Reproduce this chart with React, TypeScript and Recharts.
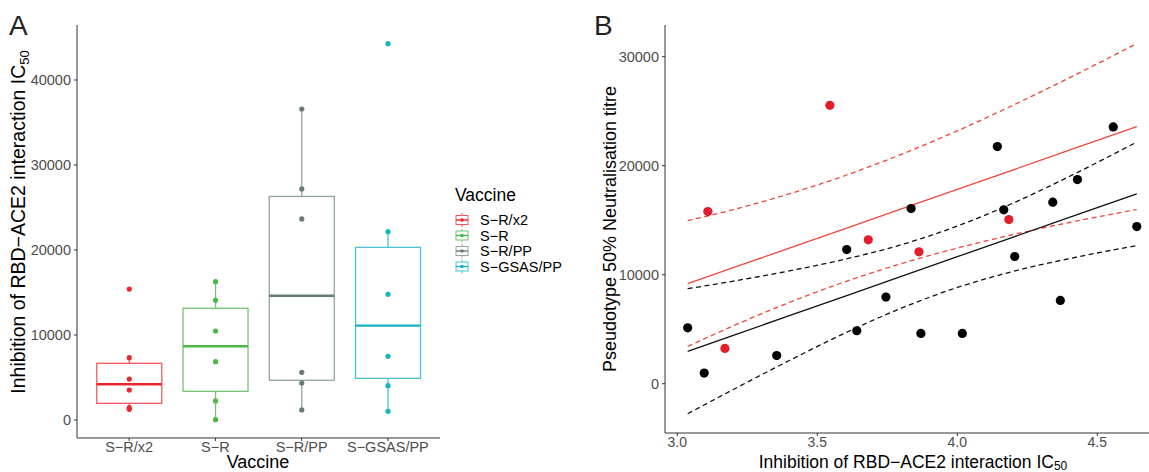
import { ComposedChart, Bar, Line, Scatter, XAxis, YAxis } from 'recharts';

// panel A: box plots by vaccine
const vaccines = ['S−R/x2', 'S−R', 'S−R/PP', 'S−GSAS/PP'];
const vaccineColors = ['#e8262c', '#4cb848', '#677b7b', '#17b3c6'];
const boxStrokes = ['#f05a5e', '#74c471', '#93a4a4', '#4cc3d3'];

const pointsSRx2 = [15400, 7330, 4820, 3530, 1450, 1260];
const pointsSR = [16270, 14080, 10470, 6860, 2240, 40];
const pointsSRPP = [36590, 27180, 23650, 5610, 4350, 1180];
const pointsSGSASPP = [44270, 22150, 14780, 7490, 4040, 1020];

const q1Values = [1960, 3370, 4670, 4900];
const medianValues = [4200, 8670, 14620, 11100];
const q3Values = [6670, 13140, 26300, 20310];
const whiskerLow = [1260, 40, 1180, 1020];
const whiskerHigh = [7330, 16270, 36590, 22150];
const yTicksA = [0, 10000, 20000, 30000, 40000];

// panel B: titre vs IC50 with linear fits
const redX = [3.109, 3.545, 3.17, 3.682, 3.863, 4.184];
const redY = [15790, 25540, 3240, 13200, 12100, 15060];
const blackX = [3.037, 3.096, 3.355, 3.605, 3.641, 3.745, 3.87, 4.018, 4.205, 4.368, 3.835, 4.143, 4.166, 4.341, 4.429, 4.557, 4.641];
const blackY = [5130, 980, 2590, 12310, 4860, 7950, 4610, 4610, 11670, 7640, 16070, 21750, 15950, 16650, 18730, 23560, 14420];

const fitX = [3.037, 3.2, 3.4, 3.6, 3.8, 4.0, 4.2, 4.4, 4.641];
const redFit = [9180, 10640, 12440, 14230, 16030, 17820, 19620, 21420, 23580];
const redUpper = [14960, 15970, 17420, 19100, 21040, 23200, 25560, 28060, 31200];
const redLower = [3420, 5310, 7460, 9360, 11020, 12440, 13690, 14790, 15980];
const blackFit = [2970, 4440, 6240, 8040, 9840, 11650, 13450, 15250, 17420];
const blackUpper = [8720, 9410, 10350, 11430, 12750, 14460, 16580, 19010, 22170];
const blackLower = [-2750, -530, 2130, 4660, 6930, 8830, 10310, 11480, 12670];
const xTicksB = [3.0, 3.5, 4.0, 4.5];
const yTicksB = [0, 10000, 20000, 30000];

const groupPoints = [pointsSRx2, pointsSR, pointsSRPP, pointsSGSASPP];

const boxData = vaccines.map((name, i) => ({
  name,
  range: [Math.min(...groupPoints[i]), Math.max(...groupPoints[i])],
  q1: q1Values[i],
  median: medianValues[i],
  q3: q3Values[i],
  lo: whiskerLow[i],
  hi: whiskerHigh[i],
  points: groupPoints[i],
  color: vaccineColors[i],
  stroke: boxStrokes[i],
}));

const fitData = fitX.map((x, i) => ({
  x,
  redFit: redFit[i],
  redUpper: redUpper[i],
  redLower: redLower[i],
  blackFit: blackFit[i],
  blackUpper: blackUpper[i],
  blackLower: blackLower[i],
}));

const redPoints = redX.map((x, i) => ({ x, y: redY[i] }));
const blackPoints = blackX.map((x, i) => ({ x, y: blackY[i] }));

const FONT = '"Liberation Sans", Arial, Helvetica, sans-serif';
const tickStyle = { fill: '#4d4d4d', fontSize: 14.5, fontFamily: FONT };
const tickStyleB = { fill: '#4d4d4d', fontSize: 14, fontFamily: FONT };
const axisColor = '#333333';

const BoxShape = (props: any) => {
  const { x, y, width, height, payload } = props;
  const top = Math.min(y, y + height);
  const h = Math.abs(height);
  const [min, max] = payload.range;
  const toY = (v: number) => top + (h * (max - v)) / (max - min);
  const cx = x + width / 2;
  return (
    <g>
      <line x1={cx} x2={cx} y1={toY(payload.hi)} y2={toY(payload.q3)} stroke={payload.stroke} strokeWidth={1.3} />
      <line x1={cx} x2={cx} y1={toY(payload.q1)} y2={toY(payload.lo)} stroke={payload.stroke} strokeWidth={1.3} />
      <rect
        x={x}
        y={toY(payload.q3)}
        width={width}
        height={toY(payload.q1) - toY(payload.q3)}
        fill="#fff"
        stroke={payload.stroke}
        strokeWidth={1.3}
      />
      <line x1={x} x2={x + width} y1={toY(payload.median)} y2={toY(payload.median)} stroke={payload.color} strokeWidth={2.4} />
      {payload.points.map((v: number, k: number) => (
        <circle key={k} cx={cx} cy={toY(v)} r={2.6} fill={payload.color} />
      ))}
    </g>
  );
};

const Dot = (color: string) => (props: any) => <circle cx={props.cx} cy={props.cy} r={4.6} fill={color} />;

export default function App() {
  return (
    <div
      style={{
        position: 'absolute',
        left: 0,
        top: 0,
        width: 1149,
        height: 472,
        overflow: 'hidden',
        background: '#fff',
        fontFamily: FONT,
      }}
    >
      <div style={{ position: 'absolute', left: 0, top: 0 }}>
        <ComposedChart
          width={450}
          height={472}
          data={boxData}
          margin={{ top: 25, right: 10, bottom: 0, left: 0 }}
          barCategoryGap="12.5%"
        >
          <XAxis
            dataKey="name"
            height={34}
            padding={{ left: 9, right: 9 }}
            stroke={axisColor}
            tick={tickStyle}
            tickSize={3}
            tickMargin={1}
            interval={0}
          />
          <YAxis
            width={77}
            domain={[-2118, 46470]}
            ticks={yTicksA}
            stroke={axisColor}
            tick={tickStyle}
            tickSize={3}
            tickMargin={3}
            allowDataOverflow
          />
          <Bar dataKey="range" shape={<BoxShape />} isAnimationActive={false} />
        </ComposedChart>
      </div>

      <div style={{ position: 'absolute', left: 590, top: 0 }}>
        <ComposedChart
          width={571}
          height={472}
          data={fitData}
          margin={{ top: 25, right: 0, bottom: 0, left: 0 }}
        >
          <XAxis
            dataKey="x"
            type="number"
            domain={[2.956, 4.7275]}
            ticks={xTicksB}
            tickFormatter={(v: number) => v.toFixed(1)}
            height={39}
            stroke={axisColor}
            tick={tickStyleB}
            tickSize={3}
            tickMargin={1}
            allowDataOverflow
          />
          <YAxis
            width={75}
            domain={[-4519, 32905]}
            ticks={yTicksB}
            stroke={axisColor}
            tick={tickStyle}
            tickSize={3}
            tickMargin={3}
            allowDataOverflow
          />
          <Line type="monotone" dataKey="redUpper" stroke="#f0473d" strokeWidth={1.3} strokeDasharray="5 3.5" dot={false} isAnimationActive={false} />
          <Line type="monotone" dataKey="redLower" stroke="#f0473d" strokeWidth={1.3} strokeDasharray="5 3.5" dot={false} isAnimationActive={false} />
          <Line type="monotone" dataKey="blackUpper" stroke="#111" strokeWidth={1.3} strokeDasharray="5 3.5" dot={false} isAnimationActive={false} />
          <Line type="monotone" dataKey="blackLower" stroke="#111" strokeWidth={1.3} strokeDasharray="5 3.5" dot={false} isAnimationActive={false} />
          <Line type="linear" dataKey="redFit" stroke="#f0473d" strokeWidth={1.3} dot={false} isAnimationActive={false} />
          <Line type="linear" dataKey="blackFit" stroke="#111" strokeWidth={1.3} dot={false} isAnimationActive={false} />
          <Scatter data={blackPoints} dataKey="y" shape={Dot('#000')} isAnimationActive={false} />
          <Scatter data={redPoints} dataKey="y" shape={Dot('#e31d2b')} isAnimationActive={false} />
        </ComposedChart>
      </div>

      <svg width={1149} height={472} style={{ position: 'absolute', left: 0, top: 0, pointerEvents: 'none' }} fontFamily={FONT}>
        <text x={9} y={35} fontSize={28} fill="#222">A</text>
        <text x={594} y={35} fontSize={28} fill="#222">B</text>

        <text transform="translate(25,222) rotate(-90)" textAnchor="middle" fontSize={19.5} fill="#000">
          Inhibition of RBD−ACE2 interaction IC<tspan fontSize={13} dy={4}>50</tspan>
        </text>
        <text x={258} y={468} textAnchor="middle" fontSize={18} fill="#000">Vaccine</text>

        <text transform="translate(616,229) rotate(-90)" textAnchor="middle" fontSize={18} fill="#000">
          Pseudotype 50% Neutralisation titre
        </text>
        <text x={913} y={467.5} textAnchor="middle" fontSize={17.5} fill="#000">
          Inhibition of RBD−ACE2 interaction IC<tspan fontSize={12} dy={2}>50</tspan>
        </text>

        <text x={455} y={201} fontSize={17.5} fill="#000">Vaccine</text>
        {vaccines.map((name, i) => {
          const cy = 220 + i * 15.5;
          return (
            <g key={name}>
              <line x1={462} x2={462} y1={cy - 7} y2={cy + 7} stroke={boxStrokes[i]} strokeWidth={1} />
              <rect x={456} y={cy - 4.5} width={12} height={9} fill="#fff" stroke={boxStrokes[i]} strokeWidth={1} />
              <line x1={456} x2={468} y1={cy} y2={cy} stroke={vaccineColors[i]} strokeWidth={1.4} />
              <circle cx={462} cy={cy} r={1.8} fill={vaccineColors[i]} />
              <text x={480} y={cy + 5} fontSize={14.5} fill="#000">{name}</text>
            </g>
          );
        })}
      </svg>
    </div>
  );
}
